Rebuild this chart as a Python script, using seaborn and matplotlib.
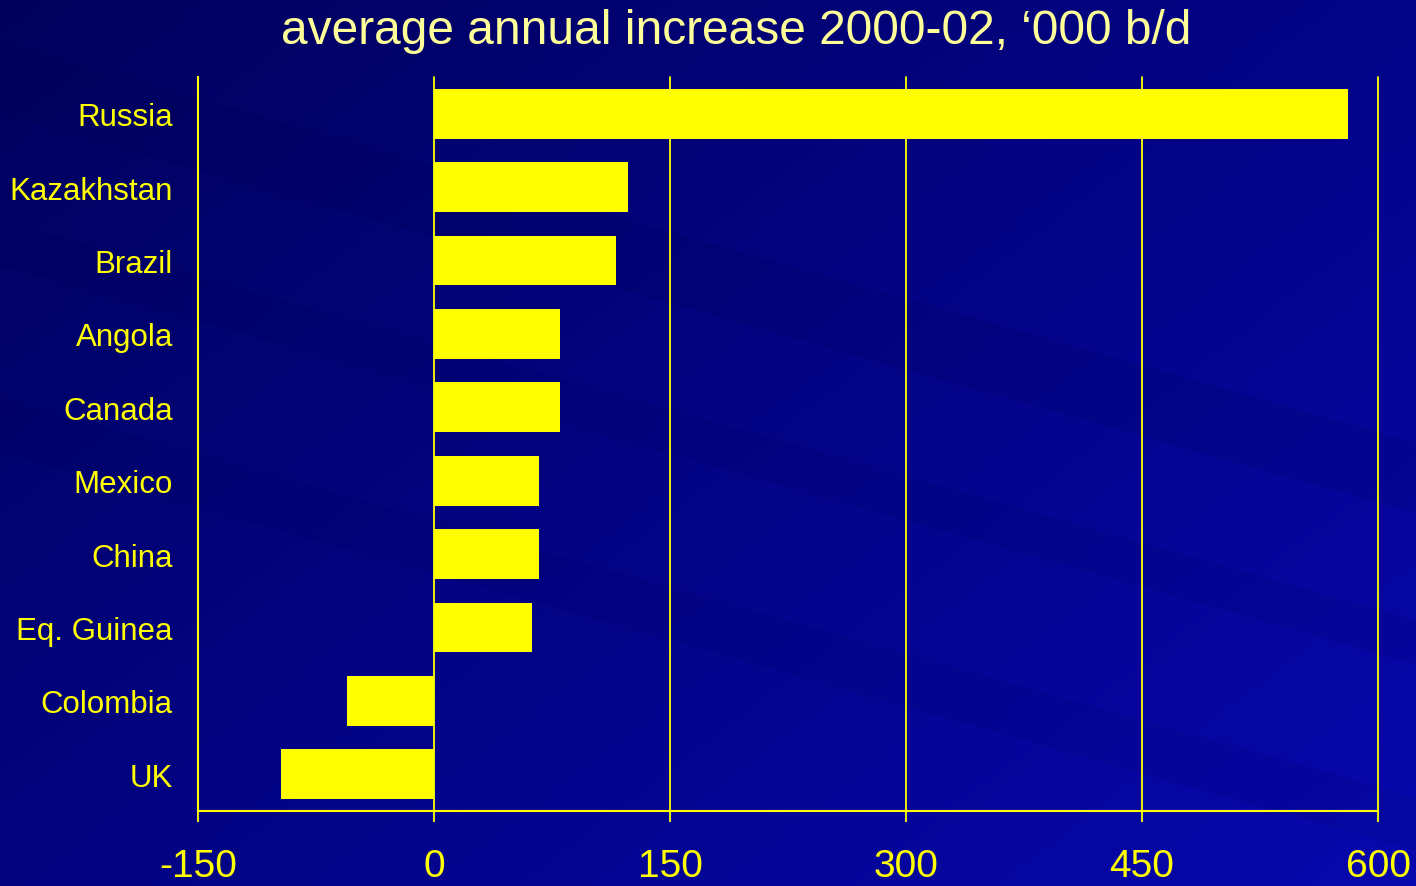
# Horizontal bar chart: average annual oil output increase 2000-02

import numpy as np
import matplotlib
matplotlib.use("Agg")
import matplotlib.pyplot as plt
import seaborn as sns

countries = ['Russia', 'Kazakhstan', 'Brazil', 'Angola', 'Canada',
             'Mexico', 'China', 'Eq. Guinea', 'Colombia', 'UK']
increase = [581, 123, 116, 80, 80, 67, 67, 62, -55, -97]
x_ticks = [-150, 0, 150, 300, 450, 600]

YELLOW = '#FFFF00'
TITLE_COLOR = '#FFFF99'


def main():
    sns.set_style('white')
    plt.rcParams['font.family'] = ['Liberation Sans', 'DejaVu Sans']

    fig = plt.figure(figsize=(14.16, 8.87), dpi=100)

    # dark blue gradient background
    bg = fig.add_axes([0, 0, 1, 1], zorder=-10)
    xx, yy = np.meshgrid(np.linspace(0, 1, 300), np.linspace(0, 1, 200))
    t = 0.55 * xx + 0.45 * yy
    dark = np.array([0.0, 0.0, 0.36])
    light = np.array([0.03, 0.03, 0.68])
    img = dark + (light - dark) * t[..., None]
    bg.imshow(img, origin='upper', aspect='auto', extent=[0, 1, 0, 1])
    # a few faint diagonal streaks
    for y0, w, a in [(0.95, 0.08, 0.10), (0.75, 0.05, 0.08), (0.55, 0.06, 0.07)]:
        xs = [0, 1, 1, 0]
        ys = [y0, y0 - 0.45, y0 - 0.45 - w, y0 - w]
        bg.fill(xs, ys, color='#000040', alpha=a, lw=0)
    bg.set_xlim(0, 1)
    bg.set_ylim(0, 1)
    bg.axis('off')

    ax = fig.add_axes([0.1398, 0.0846, 0.8334, 0.8274])
    ax.set_facecolor('none')

    sns.barplot(x=increase, y=countries, orient='h', color=YELLOW,
                saturation=1, width=0.68, ax=ax, zorder=3,
                edgecolor=YELLOW, linewidth=0)

    ax.set_xlim(-150, 600)
    ax.set_ylim(9.5, -0.5)
    ax.set_xticks(x_ticks)
    ax.set_xticklabels([str(v) for v in x_ticks])

    ax.grid(axis='x', color=YELLOW, lw=1.3, zorder=1)
    ax.grid(axis='y', visible=False)
    ax.set_axisbelow(True)
    for gl in ax.get_xgridlines():
        gl.set_clip_on(False)

    for side in ['top', 'right']:
        ax.spines[side].set_visible(False)
    for side in ['left', 'bottom']:
        ax.spines[side].set_color(YELLOW)
        ax.spines[side].set_linewidth(1.5)

    ax.tick_params(axis='x', colors=YELLOW, labelsize=28, length=8,
                   width=1.3, direction='out', pad=19, bottom=True)
    ax.tick_params(axis='y', colors=YELLOW, labelsize=22.5, length=0, pad=18)
    ax.set_xlabel('')
    ax.set_ylabel('')

    fig.text(0.52, 0.964, 'average annual increase 2000-02, \u2018000 b/d',
             color=TITLE_COLOR, fontsize=34.5, ha='center', va='center')

    fig.savefig('out.png', dpi=100)


if __name__ == '__main__':
    main()
